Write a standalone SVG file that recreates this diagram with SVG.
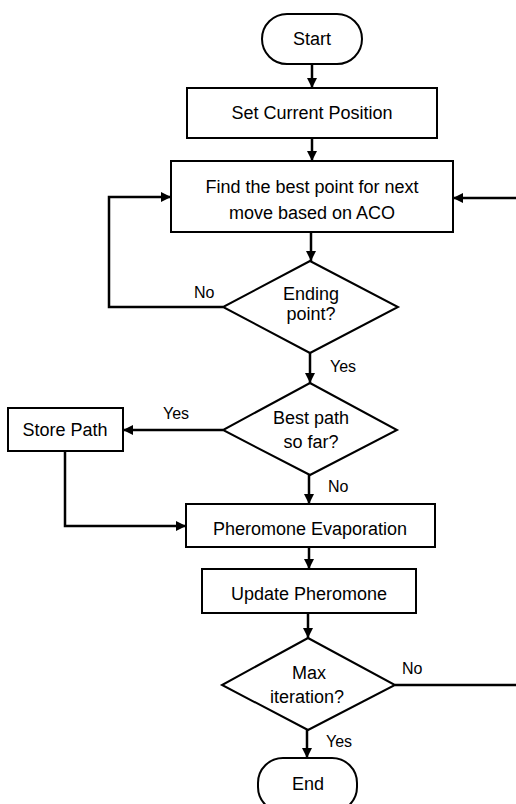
<svg xmlns="http://www.w3.org/2000/svg" width="516" height="804" viewBox="0 0 516 804">
<style>
.n{fill:#fff;stroke:#000;stroke-width:2}
.t{font-family:"Liberation Sans",Arial,sans-serif;font-size:18px;fill:#000;text-anchor:middle}
.l{font-family:"Liberation Sans",Arial,sans-serif;font-size:16px;fill:#000}
.c{fill:none;stroke:#000;stroke-width:2.5}
</style>
<defs>
<marker id="ah" markerUnits="userSpaceOnUse" markerWidth="10" markerHeight="10" refX="10" refY="5" orient="auto">
<path d="M0,0 L10,5 L0,10 z" fill="#000"/>
</marker>
</defs>
<rect width="516" height="804" fill="#fff"/>
<g id="connectors">
<path class="c" d="M312,64 V88" marker-end="url(#ah)"/>
<path class="c" d="M312,138 V161" marker-end="url(#ah)"/>
<path class="c" d="M311,232 V261" marker-end="url(#ah)"/>
<path class="c" d="M223,307 H109 V197 H171" marker-end="url(#ah)"/>
<path class="c" d="M310,353 V383" marker-end="url(#ah)"/>
<path class="c" d="M223,430 H123" marker-end="url(#ah)"/>
<path class="c" d="M309,475 V504" marker-end="url(#ah)"/>
<path class="c" d="M65,451 V526 H186" marker-end="url(#ah)"/>
<path class="c" d="M309,547 V569" marker-end="url(#ah)"/>
<path class="c" d="M308,613 V638" marker-end="url(#ah)"/>
<path class="c" d="M307,730 V758" marker-end="url(#ah)"/>
<path class="c" d="M395,685 H516"/>
<path class="c" d="M516,198 H453" marker-end="url(#ah)"/>
<text class="l" x="194" y="298">No</text>
<text class="l" x="330" y="372">Yes</text>
<text class="l" x="163" y="419">Yes</text>
<text class="l" x="328" y="492">No</text>
<text class="l" x="402" y="674">No</text>
<text class="l" x="326" y="747">Yes</text>
</g>
<g id="start">
<rect class="n" x="262" y="14" width="100" height="50" rx="25"/>
<text class="t" x="312" y="45">Start</text>
</g>
<g id="set-position">
<rect class="n" x="187" y="88" width="250" height="50"/>
<text class="t" x="312" y="119">Set Current Position</text>
</g>
<g id="find-best">
<rect class="n" x="171" y="161" width="282" height="71"/>
<text class="t" x="312" y="193">Find the best point for next</text>
<text class="t" x="312" y="219">move based on ACO</text>
</g>
<g id="ending-point">
<polygon class="n" points="310,261 398,307 310,353 223,307"/>
<text class="t" x="311" y="300">Ending</text>
<text class="t" x="311" y="320">point?</text>
</g>
<g id="best-path">
<polygon class="n" points="310,383 397,430 310,475 223,430"/>
<text class="t" x="311" y="424">Best path</text>
<text class="t" x="311" y="448">so far?</text>
</g>
<g id="store-path">
<rect class="n" x="8" y="408" width="115" height="43"/>
<text class="t" x="65" y="436">Store Path</text>
</g>
<g id="evaporation">
<rect class="n" x="186" y="504" width="249" height="43"/>
<text class="t" x="310" y="535">Pheromone Evaporation</text>
</g>
<g id="update">
<rect class="n" x="202" y="569" width="214" height="44"/>
<text class="t" x="309" y="600">Update Pheromone</text>
</g>
<g id="max-iteration">
<polygon class="n" points="308,638 395,685 308,730 222,685"/>
<text class="t" x="309" y="679">Max</text>
<text class="t" x="307" y="703">iteration?</text>
</g>
<g id="end">
<rect class="n" x="258" y="758" width="99" height="54" rx="25"/>
<text class="t" x="308" y="790">End</text>
</g>
</svg>
